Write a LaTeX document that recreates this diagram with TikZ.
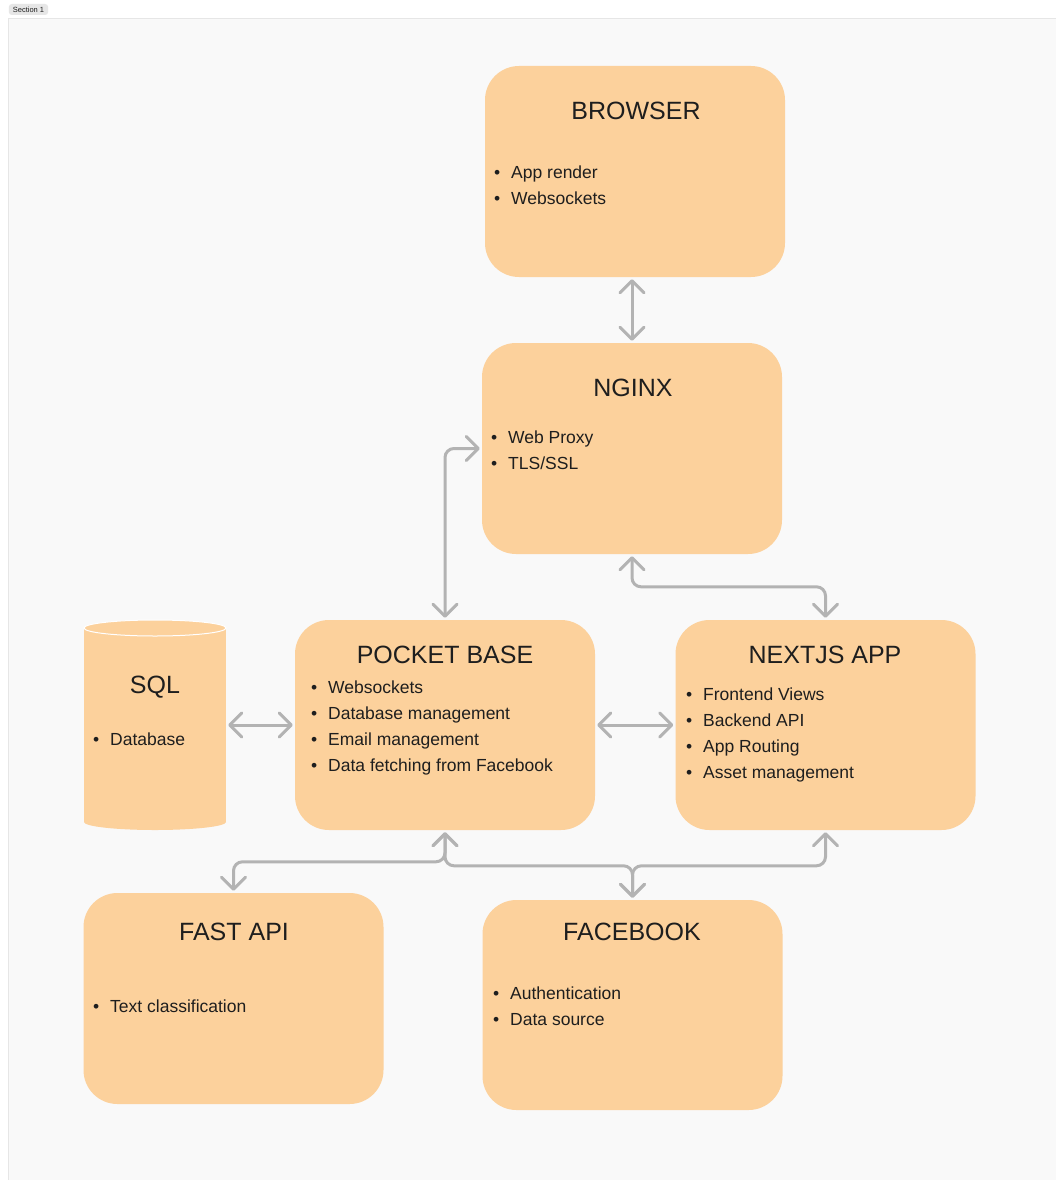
\documentclass[tikz,border=0pt]{standalone}
\usepackage{fontspec}
\setmainfont{Liberation Sans}
\usetikzlibrary{arrows.meta}
\definecolor{cardfill}{HTML}{FCD19C}
\definecolor{linkgray}{HTML}{B3B3B3}
\definecolor{inkdark}{HTML}{1E1E1E}
\definecolor{sectionbg}{HTML}{F9F9F9}
\definecolor{sectionline}{HTML}{E6E6E6}
\newcommand{\bitem}[1]{\makebox[17pt][l]{\textbullet}#1}
\newcommand{\blist}[1]{\begin{tabular}[t]{@{}l@{}}#1\end{tabular}}
\tikzset{
	card/.style={fill=cardfill, rounded corners=34pt, minimum width=300pt, minimum height=211pt, inner sep=0pt},
	cardtitle/.style={anchor=base, inner sep=0pt, text=inkdark, font=\fontsize{25}{30}\selectfont},
	carditems/.style={anchor=base west, inner sep=0pt, text=inkdark, font=\fontsize{17.5}{26}\selectfont},
	barb/.tip={Straight Barb[length=12pt,width=24pt,round]},
	link/.style={draw=linkgray, line width=3pt, rounded corners=9pt, shorten <=2pt, shorten >=2pt, barb-barb},
}
\begin{document}
\begin{tikzpicture}[x=1pt,y=-1pt]
			\useasboundingbox (0,0) rectangle (1055,1180);
			\fill[white] (0,0) rectangle (1055,1180);
			\draw[sectionline, fill=sectionbg] (8,18) rectangle (1062,1188);
			\node [fill=sectionline, rounded corners=3pt, inner xsep=4pt, inner ysep=0pt, minimum height=11pt, font=\fontsize{7.5}{8}\selectfont, text=inkdark] (seclabel) at (28.5,9.5) {Section 1};
			
			\node [card] (browser) at (635,171.5) {};
			\node [card] (nginx) at (632,448.5) {};
			\node [card, minimum height=210pt] (pocket) at (445,725) {};
			\node [card, minimum height=210pt] (nextjs) at (825.5,725) {};
			\node [card] (fastapi) at (233.5,998.5) {};
			\node [card, minimum height=210pt] (facebook) at (632.5,1005) {};
			
			\node [minimum width=142pt, minimum height=210pt, inner sep=0pt] (sql) at (155,725) {};
			\fill[cardfill] (84,628) rectangle (226,822);
			\fill[cardfill] (155,822) ellipse [x radius=71pt, y radius=8pt];
			\fill[cardfill] (155,628) ellipse [x radius=71pt, y radius=8pt];
			\draw[white, line width=1pt] (155,628) ellipse [x radius=71pt, y radius=8pt];
			
			\node [cardtitle] (browser-title) at (636,120) {BROWSER};
			\node [carditems] (browser-list) at (494,178) {\blist{\bitem{App render}\\\bitem{Websockets}}};
			
			\node [cardtitle] (nginx-title) at (633,396) {NGINX};
			\node [carditems] (nginx-list) at (491,443) {\blist{\bitem{Web Proxy}\\\bitem{TLS/SSL}}};
			
			\node [cardtitle] (pocket-title) at (445,663) {POCKET BASE};
			\node [carditems] (pocket-list) at (311,693) {\blist{\bitem{Websockets}\\\bitem{Database management}\\\bitem{Email management}\\\bitem{Data fetching from Facebook}}};
			
			\node [cardtitle] (nextjs-title) at (825,663) {NEXTJS APP};
			\node [carditems] (nextjs-list) at (686,700) {\blist{\bitem{Frontend Views}\\\bitem{Backend API}\\\bitem{App Routing}\\\bitem{Asset management}}};
			
			\node [cardtitle] (sql-title) at (155,693) {SQL};
			\node [carditems] (sql-list) at (93,745) {\blist{\bitem{Database}}};
			
			\node [cardtitle] (fastapi-title) at (234,940) {FAST API};
			\node [carditems] (fastapi-list) at (93,1012) {\blist{\bitem{Text classification}}};
			
			\node [cardtitle] (facebook-title) at (632,940) {FACEBOOK};
			\node [carditems] (facebook-list) at (493,999) {\blist{\bitem{Authentication}\\\bitem{Data source}}};
			
			\draw[link] (nginx.north |- browser.south) -- (nginx.north);
			\draw[link] (nginx.west) -| (pocket.north);
			\draw[link] (nginx.south) |- ([yshift=33pt]nextjs.north) -- (nextjs.north);
			\draw[link] (sql.east) -- (pocket.west);
			\draw[link] (pocket.east) -- (nextjs.west);
			\draw[link] (pocket.south) |- ([yshift=31pt]fastapi.north) -- (fastapi.north);
			\draw[link] (pocket.south) |- ([yshift=34pt]facebook.north) -- (facebook.north);
			\draw[link] (nextjs.south) |- ([yshift=34pt]facebook.north) -- (facebook.north);
		\end{tikzpicture}
\end{document}
